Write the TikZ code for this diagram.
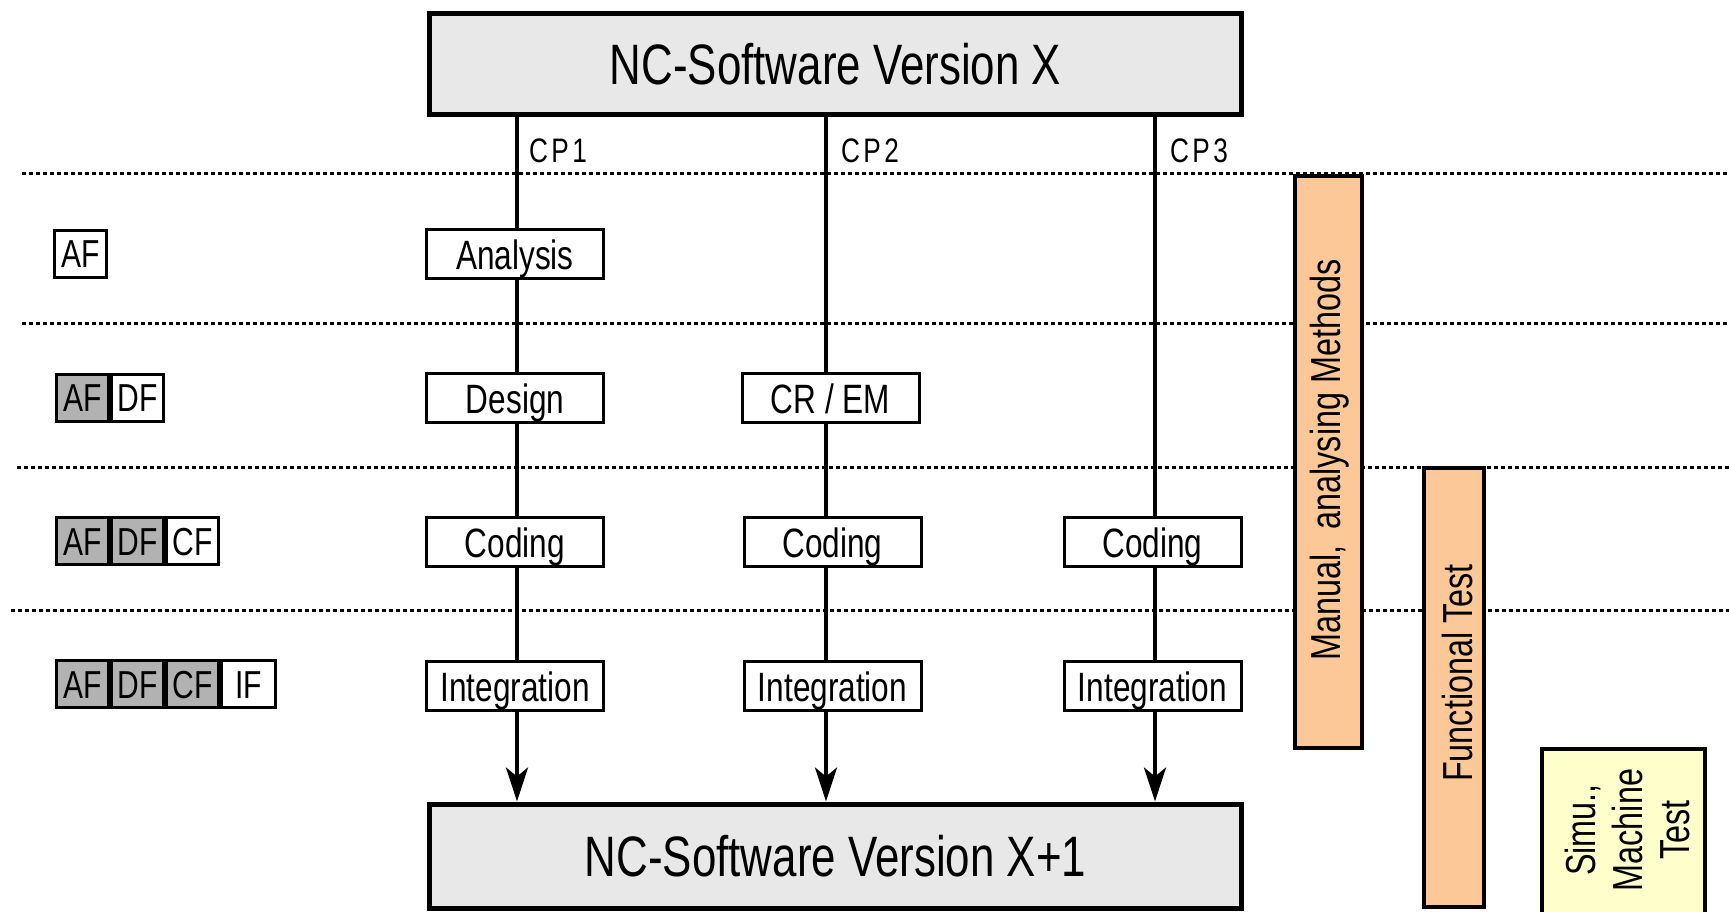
\documentclass[tikz,border=0pt]{standalone}
\usepackage{fontspec}
\setmainfont[FakeStretch=0.77]{Liberation Sans}
\newfontfamily\cpfont[FakeStretch=0.77,LetterSpace=10]{Liberation Sans}
\usetikzlibrary{arrows.meta}
\definecolor{peach}{HTML}{FCC898}
\definecolor{paleyellow}{HTML}{FFFFCC}
\definecolor{cellgray}{HTML}{B2B2B2}
\definecolor{verfill}{HTML}{E8E8E8}
\begin{document}
\begin{tikzpicture}[x=1pt,y=-1pt,
  sepline/.style={line width=3pt, dash pattern=on 4pt off 3pt},
  flow/.style={line width=3.5pt},
  arrflow/.style={flow,-{Stealth[length=34pt,width=22pt,inset=9pt]}},
  verbox/.style={draw,line width=5pt,fill=verfill,minimum width=812pt,minimum height=101pt,inner sep=0pt,font=\fontsize{57}{60}\selectfont},
  proc/.style={draw,line width=3pt,fill=white,minimum width=177pt,minimum height=49pt,inner sep=0pt,text height=31pt,text depth=0pt,font=\fontsize{41}{46}\selectfont},
  cellg/.style={draw,line width=3pt,fill=cellgray,minimum width=52pt,minimum height=47pt,inner sep=0pt,text height=28pt,text depth=0pt,font=\fontsize{39}{44}\selectfont},
  cellw/.style={cellg,fill=white},
  method/.style={draw,line width=4pt,inner sep=0pt},
  cplabel/.style={anchor=west,inner sep=0pt,font=\cpfont\fontsize{34}{36}\selectfont},
  vlabel/.style={rotate=90,inner sep=0pt,font=\fontsize{42}{47}\selectfont,align=center}
]
\useasboundingbox (0,0) rectangle (1729,912);

% separators
\draw[sepline] (22,174) -- (1729,174);
\draw[sepline] (22,323) -- (1729,323);
\draw[sepline] (17,467) -- (1729,467);
\draw[sepline] (11,610) -- (1729,610);

% method bars
\node[method,fill=peach,minimum width=67pt,minimum height=572pt] (man) at (1328.5,462) {};
\node[vlabel] (mant) at (1330,460) {Manual,~\,analysing Methods};
\node[method,fill=peach,minimum width=60pt,minimum height=439pt] (fun) at (1454,687.5) {};
\node[vlabel] (funt) at (1457,673) {Functional Test};
\node[method,fill=paleyellow,minimum width=163pt,minimum height=200pt] (sim) at (1623.5,849) {};
\node[vlabel] (simt) at (1627,830) {Simu.,\\Machine\\Test};

% version boxes
\node[verbox] (top) at (835.5,64) {NC-Software Version X};
\node[verbox,minimum height=104pt] (bot) at (835.5,856) {NC-Software Version X+1};

% lanes
\coordinate (l1) at (517,0);
\coordinate (l2) at (826,0);
\coordinate (l3) at (1155,0);

% process boxes
\node[proc] (an1) at (515,254) {Analysis};
\node[proc] (de1) at (515,398) {Design};
\node[proc] (co1) at (515,542) {Coding};
\node[proc] (in1) at (515,686) {Integration};
\node[proc] (cr2) at (830.5,398) {CR / EM};
\node[proc] (co2) at (832.5,542) {Coding};
\node[proc] (in2) at (832.5,686) {Integration};
\node[proc] (co3) at (1152.5,542) {Coding};
\node[proc] (in3) at (1152.5,686) {Integration};

% connectors
\draw[flow] (top.south -| l1) -- (an1.north -| l1);
\draw[flow] (an1.south -| l1) -- (de1.north -| l1);
\draw[flow] (de1.south -| l1) -- (co1.north -| l1);
\draw[flow] (co1.south -| l1) -- (in1.north -| l1);
\draw[arrflow] (in1.south -| l1) -- (bot.north -| l1);

\draw[flow] (top.south -| l2) -- (cr2.north -| l2);
\draw[flow] (cr2.south -| l2) -- (co2.north -| l2);
\draw[flow] (co2.south -| l2) -- (in2.north -| l2);
\draw[arrflow] (in2.south -| l2) -- (bot.north -| l2);

\draw[flow] ([yshift=4pt]top.south -| l3) -- (co3.north -| l3);
\draw[flow] (co3.south -| l3) -- (in3.north -| l3);
\draw[arrflow] (in3.south -| l3) -- (bot.north -| l3);

% CP labels
\node[cplabel] (cp1) at (529,151) {CP1};
\node[cplabel] (cp2) at (841,151) {CP2};
\node[cplabel] (cp3) at (1170,151) {CP3};

% left legend cells
\node[cellw] (r1a) at (80.5,253.5) {AF};
\node[cellg] (r2a) at (82.5,397.5) {AF};
\node[cellw] (r2d) at (137.5,397.5) {DF};
\node[cellg] (r3a) at (82.5,541) {AF};
\node[cellg] (r3d) at (137.5,541) {DF};
\node[cellw] (r3c) at (192.5,541) {CF};
\node[cellg] (r4a) at (82.5,684) {AF};
\node[cellg] (r4d) at (137.5,684) {DF};
\node[cellg] (r4c) at (192.5,684) {CF};
\node[cellw,minimum width=54pt] (r4i) at (248.5,684) {IF};
\end{tikzpicture}
\end{document}
